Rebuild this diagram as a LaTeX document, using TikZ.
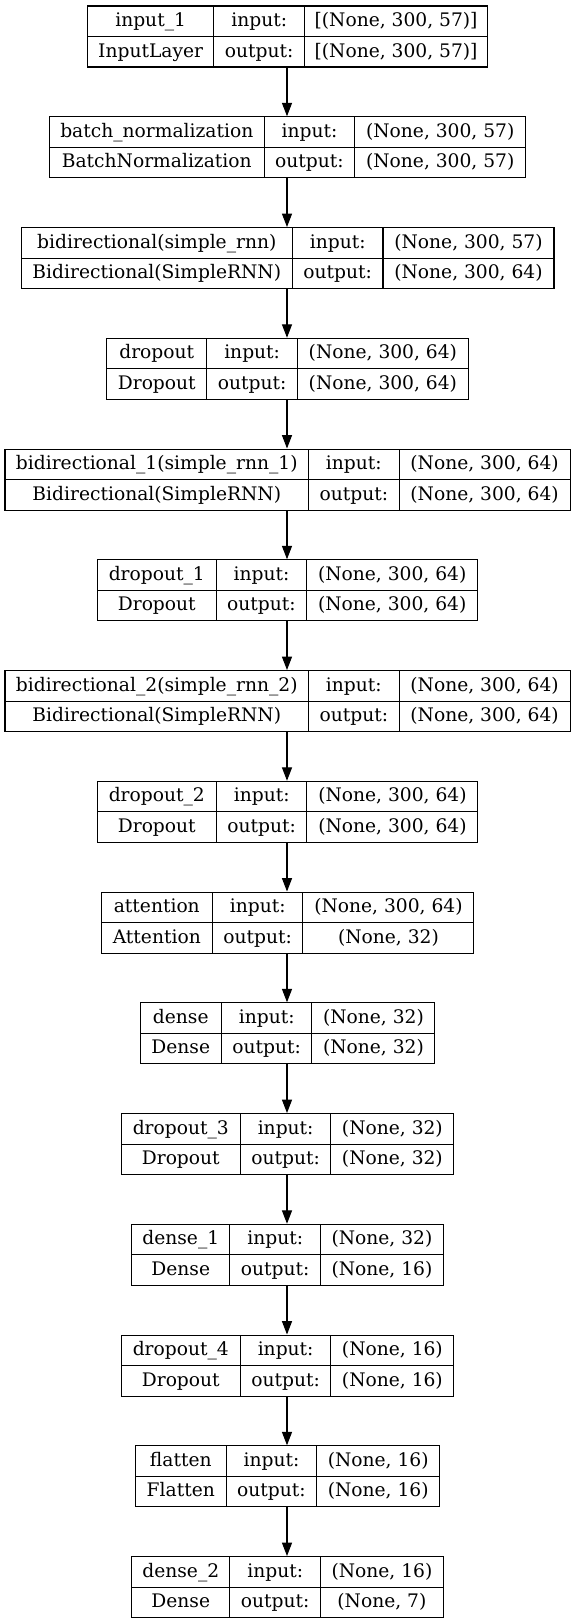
\documentclass[tikz,border=0pt]{standalone}
\usepackage{fontspec}
\setmainfont{DejaVu Serif}
\usetikzlibrary{arrows.meta}
\begin{document}
\begin{tikzpicture}[x=0.75pt,y=-0.75pt,
  cell/.style={draw=black, line width=0.8pt, inner sep=0pt, minimum height=22.875pt,
    text height=11pt, text depth=3pt, font=\fontsize{14pt}{17pt}\selectfont, anchor=north west},
  boxnode/.style={inner sep=0pt, minimum height=45.75pt, anchor=north},
  arr/.style={-{Triangle[length=10pt,width=7.5pt]}, line width=0.8pt}]
\useasboundingbox (0,0) rectangle (575,1623);
\foreach \nm/\k/\wa/\wc/\ta/\tb/\tc/\td in {
  b1/0/126.6/183.3/input\_1/InputLayer/{[(None, 300, 57)]}/{[(None, 300, 57)]},
  b2/1/214.9/171/batch\_normalization/BatchNormalization/{(None, 300, 57)}/{(None, 300, 57)},
  b3/2/271.4/171/bidirectional(simple\_rnn)/Bidirectional(SimpleRNN)/{(None, 300, 57)}/{(None, 300, 64)},
  b4/3/100.2/171/dropout/Dropout/{(None, 300, 64)}/{(None, 300, 64)},
  b5/4/303.6/171/bidirectional\_1(simple\_rnn\_1)/Bidirectional(SimpleRNN)/{(None, 300, 64)}/{(None, 300, 64)},
  b6/5/118.8/171/dropout\_1/Dropout/{(None, 300, 64)}/{(None, 300, 64)},
  b7/6/303.6/171/bidirectional\_2(simple\_rnn\_2)/Bidirectional(SimpleRNN)/{(None, 300, 64)}/{(None, 300, 64)},
  b8/7/119.3/171/dropout\_2/Dropout/{(None, 300, 64)}/{(None, 300, 64)},
  b9/8/111.3/171/attention/Attention/{(None, 300, 64)}/{(None, 32)},
  b10/9/81.3/123/dense/Dense/{(None, 32)}/{(None, 32)},
  b11/10/119.2/123/dropout\_3/Dropout/{(None, 32)}/{(None, 32)},
  b12/11/98.3/123/dense\_1/Dense/{(None, 32)}/{(None, 16)},
  b13/12/119.2/123/dropout\_4/Dropout/{(None, 16)}/{(None, 16)},
  b14/13/90.9/123/flatten/Flatten/{(None, 16)}/{(None, 16)},
  b15/14/98.3/123/dense\_2/Dense/{(None, 16)}/{(None, 7)}%
}{
  \pgfmathsetmacro\yt{5.5+110.75*\k}
  \pgfmathsetmacro\ym{\yt+30.5}
  \pgfmathsetmacro\xa{287-(\wa+90.5+\wc)/2}
  \pgfmathsetmacro\xb{\xa+\wa}
  \pgfmathsetmacro\xc{\xb+90.5}
  \node[boxnode, minimum width={(\wa+90.5+\wc)*0.75pt}] (\nm) at (287,\yt) {};
  \node[cell, minimum width={\wa*0.75pt}] (\nm-a) at (\xa,\yt) {\ta};
  \node[cell, minimum width={\wa*0.75pt}] (\nm-b) at (\xa,\ym) {\tb};
  \node[cell, minimum width={90.5*0.75pt}] (\nm-c) at (\xb,\yt) {input:};
  \node[cell, minimum width={90.5*0.75pt}] (\nm-d) at (\xb,\ym) {output:};
  \node[cell, minimum width={\wc*0.75pt}] (\nm-e) at (\xc,\yt) {\tc};
  \node[cell, minimum width={\wc*0.75pt}] (\nm-f) at (\xc,\ym) {\td};
}
\foreach \i in {1,...,14}{
  \pgfmathtruncatemacro\j{\i+1}
  \draw[arr] (b\i.south) -- (b\i.south |- b\j.north);
}
\end{tikzpicture}
\end{document}
